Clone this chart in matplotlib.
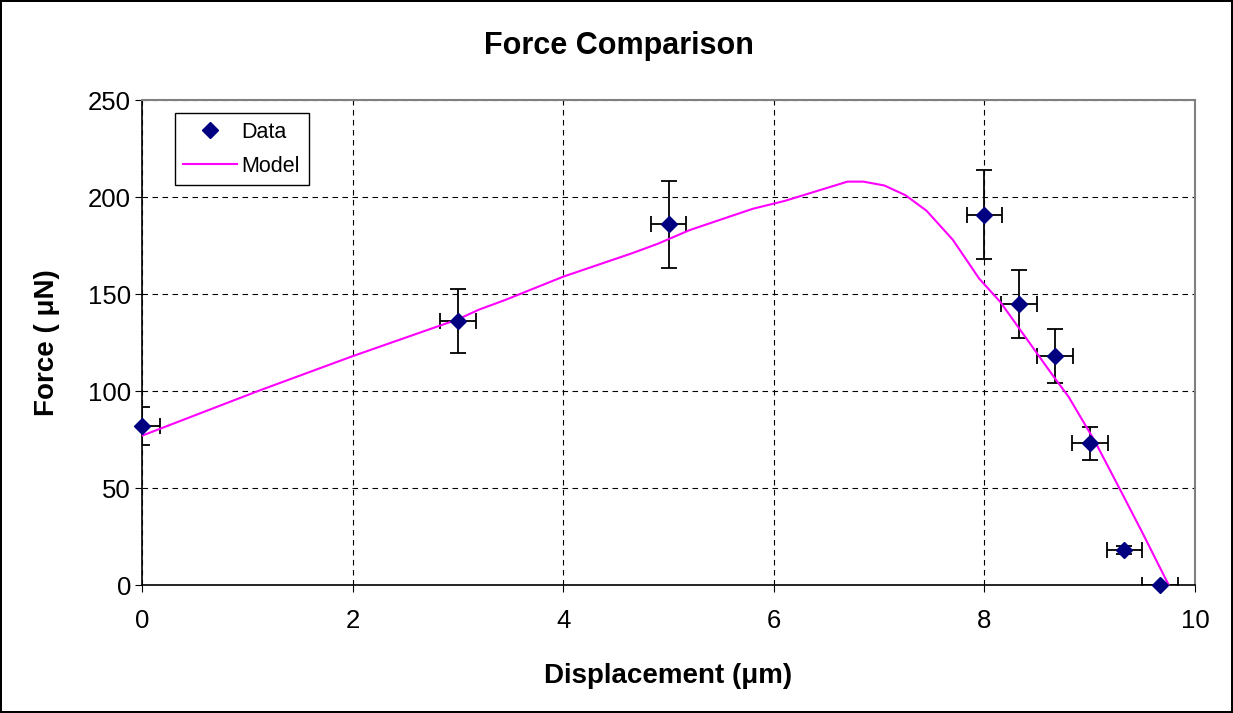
import numpy as np
import matplotlib.pyplot as plt

plt.rcParams['font.family'] = ['Liberation Sans', 'DejaVu Sans']

# измеренные точки
disp = [0, 3, 5, 8, 8.33, 8.67, 9, 9.33, 9.67]
force = [82, 136, 186, 191, 145, 118, 73, 18, 0]
force_err = [10, 16.5, 22.5, 23, 17.5, 14, 8.5, 2, 0]
disp_err = [0.17, 0.17, 0.17, 0.17, 0.17, 0.17, 0.17, 0.17, 0.17]

# модельная кривая
model_x = [0, 1.1, 2.0, 3.0, 3.2, 3.45, 4.0, 4.65, 4.9, 5.2, 5.8, 6.1, 6.7, 6.85,
           7.05, 7.25, 7.45, 7.7, 7.95, 8.15, 8.4, 8.65, 8.8, 9.05, 9.3, 9.5, 9.75]
model_y = [77, 100, 118, 137, 142, 147, 159, 171, 176, 183, 194, 198, 208, 208,
           206, 201, 193, 178, 158, 146, 127, 108, 97, 74, 48, 27, 0]

fig = plt.figure(figsize=(12.33, 7.13), dpi=100)
fig.patch.set_edgecolor('black')
fig.patch.set_linewidth(1.5)
ax = fig.add_axes([0.1152, 0.1795, 0.854, 0.680])

ax.errorbar(disp, force, yerr=force_err, xerr=disp_err, fmt='none',
            ecolor='black', elinewidth=1.3, capsize=5.5, capthick=1.3, zorder=3)
ax.plot(model_x, model_y, color='#FF00FF', lw=1.5, label='Model', zorder=4)
ax.plot(disp, force, 'D', color='#000080', markersize=8, linestyle='none',
        label='Data', zorder=5, clip_on=False)

ax.set_xlim(0, 10)
ax.set_ylim(0, 250)
ax.set_xticks(np.arange(0, 11, 2))
ax.set_yticks(np.arange(0, 251, 50))
ax.grid(True, color='black', linestyle=(0, (5, 4)), linewidth=0.8)
ax.tick_params(labelsize=18.5, direction='out', length=5, color='black')
ax.tick_params(axis='x', pad=12)
ax.tick_params(axis='y', pad=3)

for side in ['top', 'right']:
    ax.spines[side].set_color('#808080')
    ax.spines[side].set_linewidth(1.5)
for side in ['left', 'bottom']:
    ax.spines[side].set_linewidth(1.2)

fig.text(0.502, 0.936, 'Force Comparison', fontsize=22, fontweight='bold',
         ha='center', va='center')
ax.set_xlabel('Displacement (\u03bcm)', fontsize=20, fontweight='bold', labelpad=22)
ax.set_ylabel('Force ( \u03bcN)', fontsize=20, fontweight='bold', labelpad=20)

handles, labels = ax.get_legend_handles_labels()
leg = ax.legend(handles[::-1], labels[::-1], loc='upper left', bbox_to_anchor=(0.031, 0.973),
                fontsize=15.5, frameon=True, fancybox=False, edgecolor='black',
                framealpha=1, borderpad=0.4, labelspacing=0.6, handlelength=2.5,
                handletextpad=0.2, borderaxespad=0)
leg.get_frame().set_linewidth(1.0)

fig.savefig('out.png', dpi=100)
